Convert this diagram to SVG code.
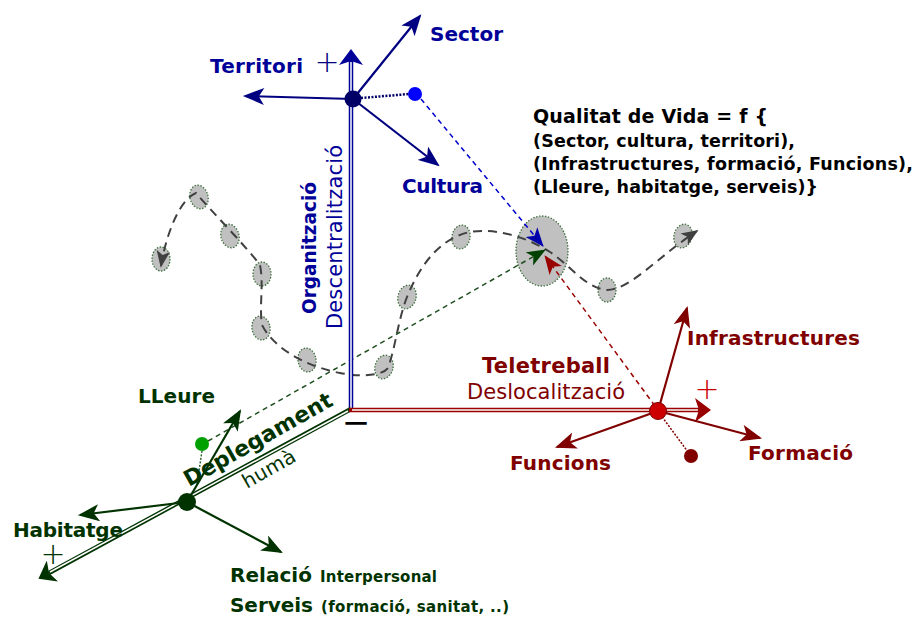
<svg xmlns="http://www.w3.org/2000/svg" width="916" height="617" viewBox="0 0 916 617">
<style>
  text{font-family:"DejaVu Sans",Verdana,sans-serif}
  .b{font-weight:bold}
  .blue{fill:#000099}
  .red{fill:#800000}
  .green{fill:#003300}
  .blk{fill:#000000}
  .pt{fill:#c0c0c0;stroke:#3f6f3f;stroke-width:1.3;stroke-dasharray:1.5,1.5}
  .curve{fill:none;stroke:#404040;stroke-width:2;stroke-dasharray:9,6}
  .arB{stroke:#000080;stroke-width:2.2;fill:none}
  .arR{stroke:#800000;stroke-width:2.2;fill:none}
  .arG{stroke:#003300;stroke-width:2.2;fill:none}
  .dash{fill:none;stroke-width:1.5;stroke-dasharray:5,4}
  .dot{fill:none;stroke-dasharray:2,1.5}
  .plus{font-weight:200;text-anchor:middle}
</style>
<defs>
  <marker id="mB" viewBox="0 0 20 16" refX="18" refY="8" markerWidth="22" markerHeight="17" orient="auto" markerUnits="userSpaceOnUse"><path d="M0,0 L20,8 L0,16 L5,8 Z" fill="#000080"/></marker>
  <marker id="mR" viewBox="0 0 20 16" refX="18" refY="8" markerWidth="22" markerHeight="17" orient="auto" markerUnits="userSpaceOnUse"><path d="M0,0 L20,8 L0,16 L5,8 Z" fill="#800000"/></marker>
  <marker id="mG" viewBox="0 0 20 16" refX="18" refY="8" markerWidth="22" markerHeight="17" orient="auto" markerUnits="userSpaceOnUse"><path d="M0,0 L20,8 L0,16 L5,8 Z" fill="#003300"/></marker>
  <marker id="mK" viewBox="0 0 20 16" refX="18" refY="8" markerWidth="17" markerHeight="14" orient="auto-start-reverse" markerUnits="userSpaceOnUse"><path d="M0,0 L20,8 L0,16 L5,8 Z" fill="#404040"/></marker>
  <marker id="pB" viewBox="0 0 20 16" refX="19" refY="8" markerWidth="19" markerHeight="16" orient="auto" markerUnits="userSpaceOnUse"><path d="M0,0 L20,8 L0,16 L5,8 Z" fill="#0000aa"/></marker>
  <marker id="pG" viewBox="0 0 20 16" refX="19" refY="8" markerWidth="19" markerHeight="16" orient="auto" markerUnits="userSpaceOnUse"><path d="M0,0 L20,8 L0,16 L5,8 Z" fill="#004000"/></marker>
  <marker id="pR" viewBox="0 0 20 16" refX="19" refY="8" markerWidth="19" markerHeight="16" orient="auto" markerUnits="userSpaceOnUse"><path d="M0,0 L20,8 L0,16 L5,8 Z" fill="#990000"/></marker>
  <marker id="aB" viewBox="0 0 16 24" refX="4" refY="12" markerWidth="16" markerHeight="24" orient="auto" markerUnits="userSpaceOnUse"><path d="M0,0 L16,12 L0,24 L4,12 Z" fill="#000099"/></marker>
  <marker id="aR" viewBox="0 0 16 24" refX="4" refY="12" markerWidth="16" markerHeight="24" orient="auto" markerUnits="userSpaceOnUse"><path d="M0,0 L16,12 L0,24 L4,12 Z" fill="#990000"/></marker>
  <marker id="aG" viewBox="0 0 16 24" refX="4" refY="12" markerWidth="16" markerHeight="24" orient="auto" markerUnits="userSpaceOnUse"><path d="M0,0 L16,12 L0,24 L4,12 Z" fill="#003300"/></marker>
</defs>

<g id="trajectory-points">
  <ellipse class="pt" cx="161" cy="259" rx="9" ry="12"/>
  <ellipse class="pt" cx="199" cy="197" rx="9" ry="12" transform="rotate(-15 199 197)"/>
  <ellipse class="pt" cx="230" cy="236" rx="9" ry="12" transform="rotate(-15 230 236)"/>
  <ellipse class="pt" cx="262" cy="274" rx="9" ry="12"/>
  <ellipse class="pt" cx="261" cy="328" rx="9" ry="12" transform="rotate(-10 261 328)"/>
  <ellipse class="pt" cx="307" cy="360" rx="9" ry="12" transform="rotate(-10 307 360)"/>
  <ellipse class="pt" cx="384" cy="367" rx="9" ry="12" transform="rotate(15 384 367)"/>
  <ellipse class="pt" cx="407" cy="297" rx="9" ry="12" transform="rotate(15 407 297)"/>
  <ellipse class="pt" cx="461" cy="237" rx="9" ry="12" transform="rotate(10 461 237)"/>
  <ellipse class="pt" cx="607" cy="290" rx="9" ry="12"/>
  <ellipse class="pt" cx="683" cy="236" rx="9" ry="12" transform="rotate(15 683 236)"/>
</g>
<g id="qualitat-point">
  <ellipse class="pt" cx="542" cy="251" rx="26" ry="35"/>
</g>

<g id="connectors">
  <path class="curve" marker-start="url(#mK)" marker-end="url(#mK)" d="M161,266 C165,240 178,200 196,193 C212,212 245,245 260,265 C264,285 259,305 262,325 C272,345 300,365 340,373 C360,377 382,376 388,368 C396,345 398,320 407,297 C420,265 440,238 470,232 C495,228 525,236 550,252 C570,265 585,288 607,290 C630,290 660,255 697,231"/>
  <path class="dash" stroke="#0000cc" marker-end="url(#pB)" d="M421,99 L543,246"/>
  <path class="dash" stroke="#1f4f1f" marker-end="url(#pG)" d="M208,441 L545,250"/>
  <path class="dash" stroke="#990000" marker-end="url(#pR)" d="M655,406 L545,256"/>
  <path class="dot" stroke="#000066" stroke-width="2.5" d="M361,98 L409,94"/>
  <path class="dot" stroke="#336633" stroke-width="1.5" d="M202,451 L197,484"/>
  <path class="dot" stroke="#800000" stroke-width="1.5" d="M660,414 L688,452"/>
  <path stroke="#000099" stroke-width="4.5" fill="none" marker-end="url(#aB)" d="M351,410 L351,61"/>
  <path stroke="#ffffff" stroke-width="1.5" fill="none" d="M351,408 L351,62"/>
  <path stroke="#003300" stroke-width="4.5" fill="none" marker-end="url(#aG)" d="M351,409 L49,573"/>
  <path stroke="#ffffff" stroke-width="1.5" fill="none" d="M348,411 L50,572"/>
  <path stroke="#990000" stroke-width="4.5" fill="none" marker-end="url(#aR)" d="M349,410 L699,410"/>
  <path stroke="#ffffff" stroke-width="1.5" fill="none" d="M352,410 L698,410"/>
  <path class="arB" marker-end="url(#mB)" d="M353,99 L420,16"/>
  <path class="arB" marker-end="url(#mB)" d="M353,99 L245,96"/>
  <path class="arB" marker-end="url(#mB)" d="M353,99 L438,165"/>
  <path class="arR" marker-end="url(#mR)" d="M658,411 L687,308"/>
  <path class="arR" marker-end="url(#mR)" d="M658,411 L557,447"/>
  <path class="arR" marker-end="url(#mR)" d="M658,411 L760,438"/>
  <path class="arG" marker-end="url(#mG)" d="M187,502 L240,411"/>
  <path class="arG" marker-end="url(#mG)" d="M187,502 L80,515"/>
  <path class="arG" marker-end="url(#mG)" d="M187,502 L281,552"/>
</g>

<g id="node-organitzacio">
  <circle cx="353" cy="99" r="8.5" fill="#000066"/>
  <text class="b blue" x="430" y="41" font-size="20" textLength="73">Sector</text>
  <text class="b blue" x="210" y="73" font-size="20" textLength="93">Territori</text>
  <text class="b blue" x="402" y="193" font-size="20" textLength="81">Cultura</text>
  <text class="plus" x="327" y="72" font-size="30" fill="#000080">+</text>
</g>
<g id="dot-organitzacio"><circle cx="415" cy="94" r="7" fill="#0000ff"/></g>

<g id="node-teletreball">
  <circle cx="658" cy="411" r="8.5" fill="#cc0000" stroke="#800000" stroke-width="1"/>
  <text class="b red" x="687" y="345" font-size="20" textLength="173">Infrastructures</text>
  <text class="b red" x="510" y="470" font-size="20" textLength="101">Funcions</text>
  <text class="b red" x="748" y="460" font-size="20" textLength="105">Formació</text>
  <text class="plus" x="707" y="399" font-size="30" fill="#cc0000">+</text>
</g>
<g id="dot-teletreball"><circle cx="691" cy="456" r="7" fill="#800000"/></g>

<g id="node-deplegament">
  <circle cx="187" cy="502" r="9" fill="#003300"/>
  <text class="b green" x="138" y="403" font-size="20" textLength="77">LLeure</text>
  <text class="b green" x="13" y="537" font-size="20" textLength="110">Habitatge</text>
  <text class="plus" x="53" y="564" font-size="30" fill="#003300">+</text>
  <text class="b green" x="230" y="582" font-size="20" textLength="82">Relació</text>
  <text class="b green" x="320" y="582" font-size="15" textLength="117">Interpersonal</text>
  <text class="b green" x="230" y="612" font-size="20" textLength="83">Serveis</text>
  <text class="b green" x="321" y="612" font-size="15" textLength="188">(formació, sanitat, ..)</text>
</g>
<g id="dot-deplegament"><circle cx="202" cy="444" r="7" fill="#00a000"/></g>

<g id="axis-labels">
  <text class="b blue" font-size="20" textLength="132" lengthAdjust="spacingAndGlyphs" transform="translate(316,314) rotate(-90)">Organització</text>
  <text class="blue" font-size="21" textLength="184" transform="translate(342,329) rotate(-90)">Descentralització</text>
  <text class="b red" x="482" y="373" font-size="21" textLength="128">Teletreball</text>
  <text class="red" x="467" y="399" font-size="21" textLength="158">Deslocalització</text>
  <text class="b green" font-size="22" textLength="167" transform="translate(189,487) rotate(-29.5)">Deplegament</text>
  <text class="green" font-size="20" textLength="58" transform="translate(247,489) rotate(-29.5)">humà</text>
  <text class="blk" x="356" y="434" font-size="34" text-anchor="middle">−</text>
</g>

<g id="formula">
  <text class="b blk" x="533" y="123" font-size="19" textLength="235">Qualitat de Vida = f {</text>
  <text class="b blk" x="533" y="147" font-size="17.5" textLength="262">(Sector, cultura, territori),</text>
  <text class="b blk" x="533" y="170" font-size="17.5" textLength="380">(Infrastructures, formació, Funcions),</text>
  <text class="b blk" x="533" y="193" font-size="17.5" textLength="285">(Lleure, habitatge, serveis)}</text>
</g>
</svg>
